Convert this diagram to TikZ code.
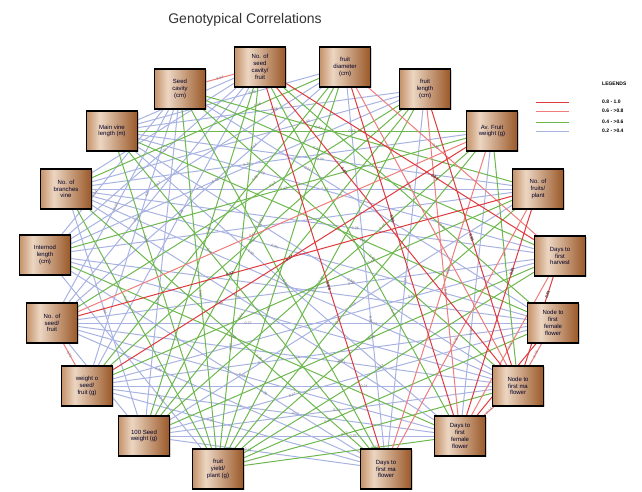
\documentclass[tikz,border=0pt]{standalone}
\usepackage{fontspec}
\setmainfont{Liberation Sans}
\usetikzlibrary{shadows,backgrounds}
\definecolor{b1}{HTML}{C4926A}
\definecolor{b2}{HTML}{ECD6C2}
\definecolor{b3}{HTML}{9A5828}
\pgfdeclarehorizontalshading{boxshade}{100bp}{color(0bp)=(b1); color(25bp)=(b1); color(38bp)=(b2); color(75bp)=(b3); color(100bp)=(b3)}
\definecolor{rA}{HTML}{E0393E}
\definecolor{rB}{HTML}{F07C7C}
\definecolor{gC}{HTML}{6DB84E}
\definecolor{bD}{HTML}{A8B3E2}
\begin{document}
\begin{tikzpicture}[x=1pt,y=-1pt,
  box/.style={draw=black, line width=1.3pt, shading=boxshade, minimum width=51pt, minimum height=40pt,
    inner sep=1pt, align=center, font=\fontsize{6}{6.8}\selectfont, text=black!85!blue,
    drop shadow={opacity=0.35,shadow xshift=1pt,shadow yshift=-1pt}},
  edge/.style={line width=1pt},
  lbl/.style={font=\fontsize{3.6}{3.8}\selectfont, text=black!55, inner sep=0pt, sloped},
  lblr/.style={lbl, font=\fontsize{4}{4.2}\selectfont\bfseries, text=black!75},
  legtxt/.style={font=\fontsize{5}{5.5}\selectfont\bfseries, anchor=west, inner sep=0pt}]
\useasboundingbox (0,0) rectangle (642,491);
\node[font=\fontsize{14}{16}\selectfont, text=black!80] (title) at (245,20) {Genotypical Correlations};
% nodes
\node[box] (A) at (180,89) {Seed\\cavity\\(cm)};
\node[box] (B) at (260,67) {No. of\\seed\\cavity/\\fruit};
\node[box] (C) at (345,67) {fruit\\diameter\\(cm)};
\node[box] (D) at (425,89) {fruit\\length\\(cm)};
\node[box] (E) at (492,131) {Av. Fruit\\weight (g)};
\node[box] (F) at (538,189) {No. of\\fruits/\\plant};
\node[box] (G) at (560,256) {Days to\\first\\harvest};
\node[box] (H) at (553,323) {Node to\\first\\female\\flower};
\node[box] (I) at (518,386) {Node to\\first ma\\flower};
\node[box] (J) at (460,436) {Days to\\first\\female\\flower};
\node[box] (K) at (386,469) {Days to\\first ma\\flower};
\node[box] (L) at (218,469) {fruit\\yield/\\plant (g)};
\node[box] (M) at (144,436) {100 Seed\\weight (g)};
\node[box] (N) at (87,386) {weight o\\seed/\\fruit (g)};
\node[box] (O) at (52,323) {No. of\\seed/\\fruit};
\node[box] (P) at (45,255) {Internod\\length\\(cm)};
\node[box] (Q) at (66,189) {No. of\\branches\\vine};
\node[box] (R) at (112,131) {Main vine\\length (m)};
% edges with correlation labels
\begin{scope}[on background layer]
\foreach \a/\b/\v [count=\i] in {Q/F/0.31, O/H/0.27, N/I/0.24, R/F/0.33, R/G/0.29, Q/G/0.26, Q/H/0.35, Q/I/0.22, P/H/0.38, P/I/0.28, O/I/0.31, O/J/0.25, O/K/0.36, N/J/0.21, N/K/0.30, A/P/0.34, A/O/0.27, A/N/0.23, B/O/0.39, B/P/0.32, B/Q/0.28, B/R/0.24, C/R/0.30, C/P/0.37, D/R/0.26, D/Q/0.33, E/Q/0.29, M/K/0.22, M/J/0.35, M/I/0.31, M/H/0.27, A/M/0.38, B/N/0.25, C/O/0.34, D/P/0.23, R/J/0.32, P/K/0.28, Q/M/0.36, A/H/0.24, R/I/0.33, Q/J/0.29, P/L/0.21, O/M/0.37, N/H/0.26, C/K/0.31, F/M/0.23, G/N/0.35, F/P/0.28, G/O/0.22, E/J/0.34, D/K/0.27}
  {\pgfmathsetmacro\pp{0.27+0.46*(\i*0.618-floor(\i*0.618))}
   \draw[edge,bD] (\a) -- node[lbl,pos=\pp]{\v} (\b);}
\foreach \a/\b/\v [count=\i] in {R/E/0.43, A/F/0.47, A/L/0.52, B/L/0.45, B/M/0.41, C/L/0.56, C/N/0.49, D/L/0.53, D/M/0.44, D/O/0.58, E/L/0.51, E/M/0.46, E/P/0.42, F/L/0.55, F/N/0.48, G/L/0.57, H/L/0.45, H/R/0.43, I/L/0.52, J/L/0.47, K/A/0.54, K/R/0.41, K/Q/0.49, J/P/0.44, C/Q/0.46, G/M/0.50, L/Q/0.42, A/G/0.48, D/N/0.53, B/J/0.45, C/M/0.51, A/I/0.43, R/L/0.56, E/I/0.49, B/H/0.41}
  {\pgfmathsetmacro\pp{0.27+0.46*(\i*0.382+0.45-floor(\i*0.382+0.45))}
   \draw[edge,gC] (\a) -- node[lbl,pos=\pp]{\v} (\b);}
\foreach \a/\b/\v/\p in {A/B/0.64/0.5, O/N/0.71/0.5, O/E/0.67/0.45, G/J/0.75/0.5, C/I/0.68/0.35, D/J/0.73/0.6, E/K/0.62/0.4, F/K/0.66/0.55, H/I/0.78/0.5, I/J/0.74/0.5, C/G/0.65/0.4}
  {\draw[edge,rB] (\a) -- node[lbl,pos=\p]{\v} (\b);}
\foreach \a/\b/\v/\p in {B/K/0.86/0.55, N/E/0.84/0.5, O/F/0.82/0.35, G/I/0.91/0.2, H/J/0.88/0.45, C/J/0.83/0.4, D/I/0.85/0.5, F/J/0.81/0.3, B/G/0.84/0.6, B/I/0.87/0.3}
  {\draw[edge,rA] (\a) -- node[lblr,pos=\p]{\v} (\b);}
\end{scope}
% legend
\node[legtxt] (leg) at (602,84) {LEGENDS};
\coordinate (l1a) at (536,102); \coordinate (l1b) at (569,102);
\coordinate (l2a) at (536,111); \coordinate (l2b) at (569,111);
\coordinate (l3a) at (536,122); \coordinate (l3b) at (569,122);
\coordinate (l4a) at (536,131); \coordinate (l4b) at (569,131);
\draw[edge,rA] (l1a) -- (l1b);
\draw[edge,rB] (l2a) -- (l2b);
\draw[edge,gC] (l3a) -- (l3b);
\draw[edge,bD] (l4a) -- (l4b);
\node[legtxt] (t1) at (602,102) {0.8 - 1.0};
\node[legtxt] (t2) at (602,111) {0.6 - >0.8};
\node[legtxt] (t3) at (602,122) {0.4 - >0.6};
\node[legtxt] (t4) at (602,131) {0.2 - >0.4};
\end{tikzpicture}
\end{document}
